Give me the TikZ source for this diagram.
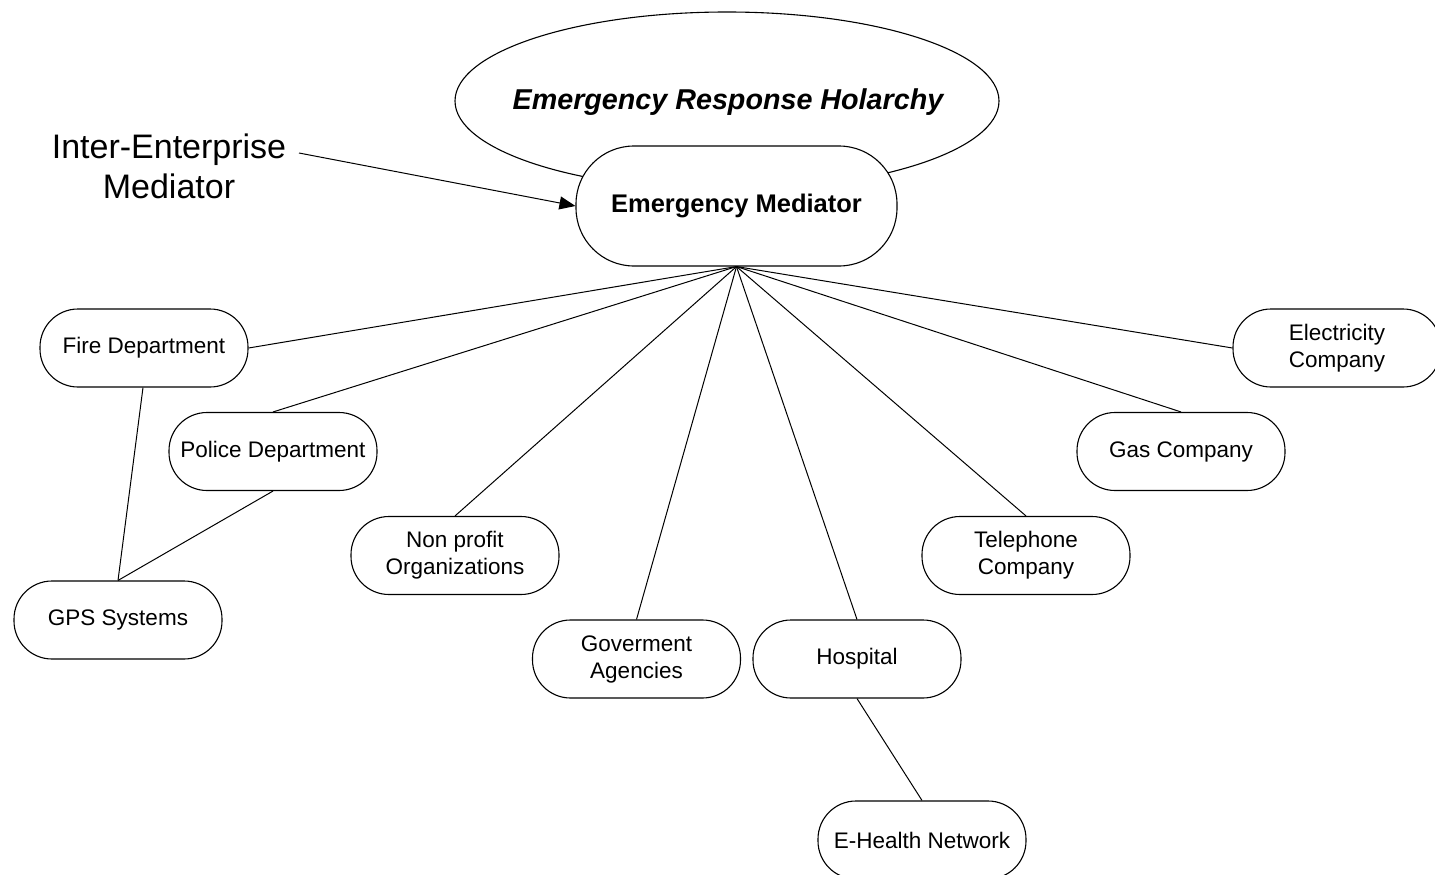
\documentclass[tikz,border=0pt]{standalone}
\usepackage{fontspec}
\setmainfont{Liberation Sans}
\usetikzlibrary{shapes.geometric,arrows.meta}
\tikzset{
  unit/.style={draw=black, line width=1.1pt, fill=white, rounded corners=38pt,
    minimum width=208pt, minimum height=78pt, inner sep=0pt, align=center,
    font=\fontsize{22.5}{27}\selectfont},
  hub/.style={draw=black, line width=1.1pt, fill=white, rounded corners=58pt,
    minimum width=321pt, minimum height=120pt, inner sep=0pt,
    font=\fontsize{25.5}{30}\selectfont\bfseries},
  holon/.style={draw=black, line width=1.1pt, ellipse, minimum width=544pt,
    minimum height=178pt, inner sep=0pt},
  link/.style={draw=black, line width=1pt},
  pointer/.style={draw=black, line width=1pt, -{Triangle[length=16pt,width=13pt]}},
  bigtext/.style={align=center, inner sep=0pt, font=\fontsize{34}{40}\selectfont}
}
\begin{document}
\begin{tikzpicture}[x=1pt,y=-1pt]
\clip (0,0) rectangle (1435,875);
\fill[white] (0,0) rectangle (1435,875);
% holarchy ellipse
\node[holon] (hol) at (727,101) {};
\node[font=\fontsize{28.7}{34}\selectfont\bfseries\itshape, inner sep=0pt] (holtxt) at (728,102) {Emergency Response Holarchy};
% mediator
\node[hub] (med) at (736.5,206) {Emergency Mediator};
% inter-enterprise mediator label
\node[bigtext] (iem) at (169,166) {Inter-Enterprise\\Mediator};
\coordinate (iemout) at (299,153);
\draw[pointer] (iemout) -- (med.west);
% member nodes
\node[unit] (fire) at (144,348) {Fire Department};
\node[unit] (police) at (273,451.5) {Police Department};
\node[unit] (gps) at (118,620) {GPS Systems};
\node[unit] (npo) at (455,555.5) {Non profit\\Organizations};
\node[unit] (gov) at (636.5,659) {Goverment\\Agencies};
\node[unit] (hosp) at (857,659) {Hospital};
\node[unit] (ehealth) at (922,840) {E-Health Network};
\node[unit] (tel) at (1026,555.5) {Telephone\\Company};
\node[unit] (gas) at (1181,451.5) {Gas Company};
\node[unit] (elec) at (1337,348) {Electricity\\Company};
% fan connectors
\draw[link] (med.south) -- (fire.east);
\draw[link] (med.south) -- (police.north);
\draw[link] (med.south) -- (npo.north);
\draw[link] (med.south) -- (gov.north);
\draw[link] (med.south) -- (hosp.north);
\draw[link] (med.south) -- (tel.north);
\draw[link] (med.south) -- (gas.north);
\draw[link] (med.south) -- (elec.west);
% secondary connectors
\draw[link] ([xshift=-1pt]fire.south) -- (gps.north);
\draw[link] (police.south) -- (gps.north);
\draw[link] (hosp.south) -- (ehealth.north);
\end{tikzpicture}
\end{document}
